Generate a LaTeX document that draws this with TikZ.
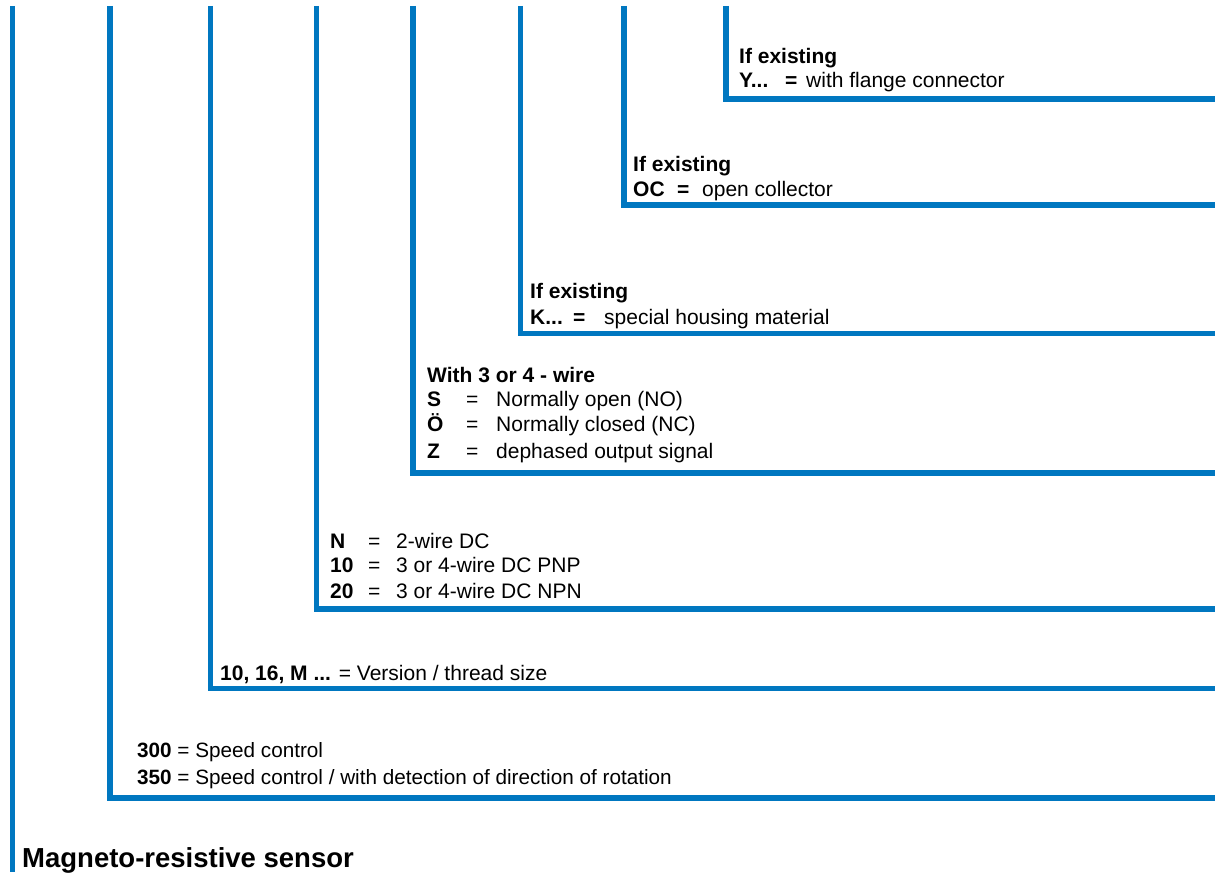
\documentclass[tikz,border=0pt]{standalone}
\usepackage{fontspec}
\setmainfont{Liberation Sans}
\definecolor{bracketblue}{RGB}{0,119,192}
\begin{document}
\begin{tikzpicture}[x=1pt,y=-1pt,
  bracket/.style={draw=bracketblue,line width=5.5pt,line cap=butt,line join=miter},
  lbl/.style={anchor=base west,inner sep=0pt,font=\fontsize{21}{24}\selectfont},
  lbs/.style={anchor=base west,inner sep=0pt,font=\fontsize{20.7}{24}\selectfont},
  ttl/.style={anchor=base west,inner sep=0pt,font=\fontsize{27.5}{32}\selectfont\bfseries}]
\useasboundingbox (0,0) rectangle (1215,874);
% bracket corner coordinates
\coordinate (t0) at (12.5,6);  \coordinate (e0) at (12.5,872);
\coordinate (t1) at (110,6);   \coordinate (e1) at (1220,798);
\coordinate (t2) at (210.5,6); \coordinate (e2) at (1220,688.5);
\coordinate (t3) at (316.5,6); \coordinate (e3) at (1220,609);
\coordinate (t4) at (413,6);   \coordinate (e4) at (1220,473);
\coordinate (t5) at (520.5,6); \coordinate (e5) at (1220,333.5);
\coordinate (t6) at (624,6);   \coordinate (e6) at (1220,205);
\coordinate (t7) at (726,6);   \coordinate (e7) at (1220,99);
\draw[bracket] (t0) -- (e0);
\draw[bracket] (t1) |- (e1);
\draw[bracket] (t2) |- (e2);
\draw[bracket] (t3) |- (e3);
\draw[bracket] (t4) |- (e4);
\draw[bracket] (t5) |- (e5);
\draw[bracket] (t6) |- (e6);
\draw[bracket] (t7) |- (e7);
% texts
\node[lbl] (y1) at (739,64) {\bfseries If existing};
\node[lbl] (y2) at (739,88) {\makebox[46pt][l]{\bfseries Y...}\makebox[21pt][l]{\bfseries =}with flange connector};
\node[lbl] (o1) at (633,172) {\bfseries If existing};
\node[lbl] (o2) at (633,197) {\makebox[44pt][l]{\bfseries OC}\makebox[25pt][l]{\bfseries =}open collector};
\node[lbl] (k1) at (530,299) {\bfseries If existing};
\node[lbl] (k2) at (530,325) {\makebox[43pt][l]{\bfseries K...}\makebox[31pt][l]{\bfseries =}special housing material};
\node[lbl] (s0) at (427,382) {\bfseries With 3 or 4 - wire};
\node[lbl] (s1) at (427,406) {\makebox[39pt][l]{\bfseries S}\makebox[30pt][l]{=}Normally open (NO)};
\node[lbl] (s2) at (427,431) {\makebox[39pt][l]{\bfseries Ö}\makebox[30pt][l]{=}Normally closed (NC)};
\node[lbl] (s3) at (427,458) {\makebox[39pt][l]{\bfseries Z}\makebox[30pt][l]{=}dephased output signal};
\node[lbl] (n1) at (330,548) {\makebox[38pt][l]{\bfseries N}\makebox[28pt][l]{=}2-wire DC};
\node[lbl] (n2) at (330,572) {\makebox[38pt][l]{\bfseries 10}\makebox[28pt][l]{=}3 or 4-wire DC PNP};
\node[lbl] (n3) at (330,598) {\makebox[38pt][l]{\bfseries 20}\makebox[28pt][l]{=}3 or 4-wire DC NPN};
\node[lbl] (v1) at (220,680) {{\bfseries 10, 16, M ...} = Version / thread size};
\node[lbs] (p1) at (137,757) {{\bfseries 300} = Speed control};
\node[lbs] (p2) at (137,784) {{\bfseries 350} = Speed control / with detection of direction of rotation};
\node[ttl] (title) at (22,867) {Magneto-resistive sensor};
\end{tikzpicture}
\end{document}
